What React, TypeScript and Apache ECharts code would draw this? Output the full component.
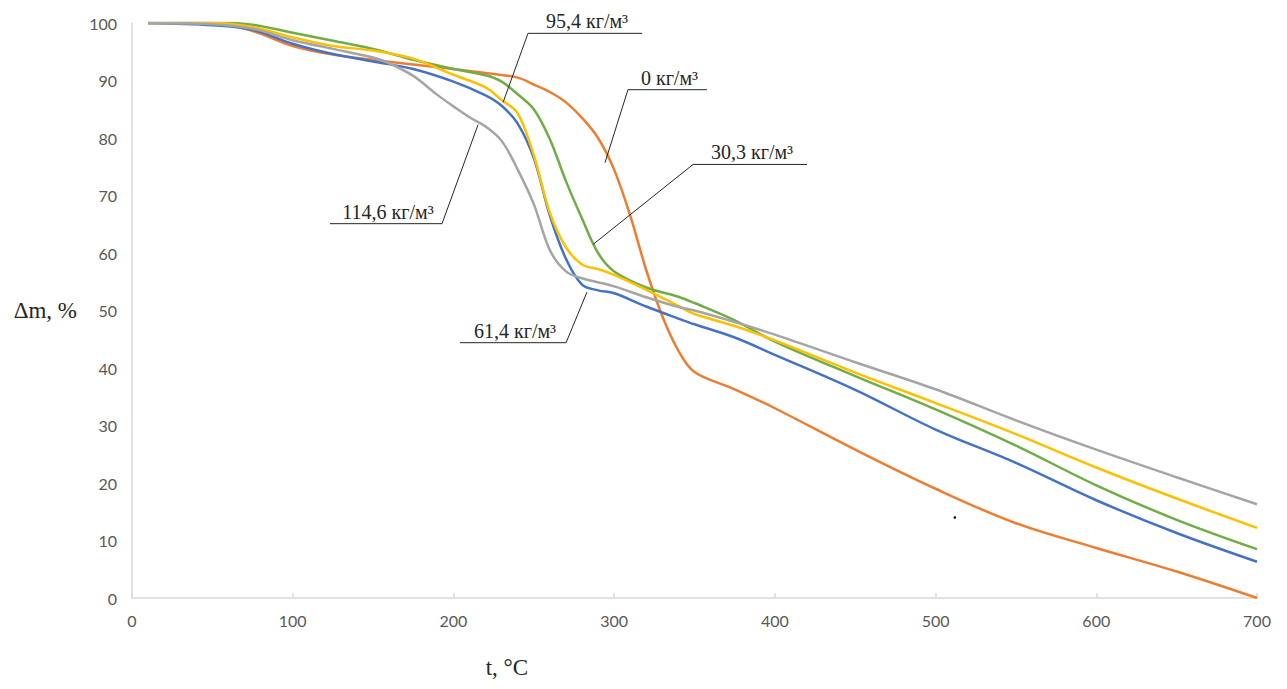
import React, { useEffect, useRef } from "react";
import * as echarts from "echarts";

// Δm (%) vs t (°C) for each density
const s0: [number, number][] = [
  [10, 100], [50, 100], [75, 98.6], [100, 96], [125, 94.5], [150, 93.6], [175, 92.8], [200, 92],
  [220, 91.3], [240, 90.5], [250, 89.3], [260, 88], [270, 86.2], [280, 83.5], [290, 80],
  [300, 74.5], [310, 66.5], [320, 57], [330, 49], [340, 43], [350, 39.3], [375, 36.3], [400, 33],
  [450, 25.8], [500, 19], [550, 13], [600, 8.7], [650, 4.6], [700, 0],
];
const s30: [number, number][] = [
  [10, 100], [50, 100.1], [75, 99.7], [100, 98.3], [125, 96.9], [150, 95.5], [175, 93.6], [200, 92],
  [220, 90.9], [230, 89.8], [240, 87.6], [250, 85], [260, 79.8], [270, 72.5], [280, 66],
  [290, 60], [300, 56.8], [320, 54], [340, 52.4], [350, 51.3], [375, 48.3], [400, 44.6],
  [450, 38.6], [500, 32.8], [550, 26.5], [600, 19.6], [650, 13.6], [700, 8.5],
];
const s61: [number, number][] = [
  [10, 100], [50, 99.6], [75, 98.8], [100, 96.4], [125, 94.6], [150, 93.3], [175, 92], [200, 89.8],
  [220, 87.4], [230, 85.6], [240, 82.5], [250, 76.5], [260, 66.5], [270, 59], [280, 54.5],
  [290, 53.5], [300, 53], [320, 50.7], [340, 48.6], [350, 47.6], [375, 45.3], [400, 42.3],
  [450, 36.2], [500, 29.3], [550, 23.5], [600, 17], [650, 11.3], [700, 6.3],
];
const s95: [number, number][] = [
  [10, 100], [50, 100], [75, 99.3], [100, 97.5], [125, 96], [150, 95.2], [175, 93.8], [200, 91],
  [220, 88.8], [230, 86.6], [240, 84.3], [250, 77], [260, 67], [270, 61], [280, 58],
  [290, 57.2], [300, 56.2], [320, 53.6], [340, 50.8], [350, 49.4], [375, 47.3], [400, 44.8],
  [450, 39.2], [500, 33.9], [550, 28.5], [600, 22.7], [650, 17.3], [700, 12.2],
];
const s114: [number, number][] = [
  [10, 100], [50, 99.8], [75, 99], [100, 97], [125, 95.5], [150, 94], [160, 93], [175, 90.8],
  [190, 87.5], [200, 85.5], [210, 83.6], [220, 82], [230, 79.5], [240, 74.5], [250, 68.5],
  [260, 60.5], [270, 56.8], [280, 55.6], [300, 54.2], [320, 52.3], [340, 50.6], [350, 50],
  [375, 48], [400, 45.8], [450, 41], [500, 36.3], [550, 30.9], [600, 25.8], [650, 21], [700, 16.3],
];

const seriesNames = ["0 кг/м³", "30,3 кг/м³", "61,4 кг/м³", "95,4 кг/м³", "114,6 кг/м³"];
const seriesData = [s0, s30, s61, s95, s114];
const seriesColors = ["#ED7D31", "#70AD47", "#4472C4", "#FFC000", "#A5A5A5"];

// annotation leaders, in data coordinates: tip on the curve, elbow, end of underline
const leaderTips: [number, number][] = [[294.3, 75.7], [286.9, 61.5], [283.1, 53.2], [230.9, 86.2], [215.3, 82.3]];
const leaderElbows: [number, number][] = [[308.6, 88.4], [349.1, 75.4], [270.1, 44.4], [246.4, 98.2], [192.9, 65.1]];
const underlineEnds: [number, number][] = [[357.8, 88.4], [420, 75.4], [204.1, 44.4], [317.4, 98.2], [123.2, 65.1]];

const xTicks = { min: 0, max: 700, interval: 100 };
const yTicks = { min: 0, max: 100, interval: 10 };

export default function App() {
  const ref = useRef<HTMLDivElement>(null);
  useEffect(() => {
    if (!ref.current) return;
    const chart = echarts.init(ref.current, null, { renderer: "svg" });
    const axisGray = "#D9D9D9";
    const tickFont = { color: "#595959", fontFamily: "Lato", fontSize: 16 };
    chart.setOption({
      animation: false,
      backgroundColor: "#ffffff",
      grid: { left: 132, right: 30, top: 23, bottom: 91 },
      xAxis: {
        type: "value",
        ...xTicks,
        axisLine: { show: true, lineStyle: { color: axisGray, width: 1.5 } },
        axisTick: { show: true, inside: true, length: 5, lineStyle: { color: axisGray, width: 1.5 } },
        axisLabel: { ...tickFont, margin: 14 },
        splitLine: { show: false },
      },
      yAxis: {
        type: "value",
        ...yTicks,
        axisLine: { show: true, lineStyle: { color: axisGray, width: 1.5 } },
        axisTick: { show: false },
        axisLabel: { ...tickFont, margin: 15 },
        splitLine: { show: false },
      },
      series: seriesData.map((d, i) => ({
        type: "line",
        name: seriesNames[i],
        data: d,
        smooth: 0.35,
        showSymbol: false,
        lineStyle: { color: seriesColors[i], width: 2.5 },
        itemStyle: { color: seriesColors[i] },
      })),
    });

    const px = (p: [number, number]) => chart.convertToPixel({ gridIndex: 0 }, p) as number[];
    const graphics: any[] = [];
    seriesNames.forEach((name, i) => {
      const a = px(leaderTips[i]);
      const b = px(leaderElbows[i]);
      const c = px(underlineEnds[i]);
      graphics.push({
        type: "polyline",
        silent: true,
        z: 100,
        shape: { points: [a, b, c] },
        style: { stroke: "#262626", lineWidth: 1, fill: null },
      });
      graphics.push({
        type: "text",
        silent: true,
        z: 101,
        x: (b[0] + c[0]) / 2 + 2,
        y: b[1] - 2,
        style: {
          text: name,
          fill: "#262626",
          font: "20px 'Liberation Serif'",
          textAlign: "center",
          textVerticalAlign: "bottom",
        },
      });
    });
    const xt = px([233.3, 0]);
    graphics.push({
      type: "text",
      silent: true,
      x: xt[0],
      y: 667,
      style: {
        text: "t, °C",
        fill: "#262626",
        font: "23px 'Liberation Serif'",
        textAlign: "center",
        textVerticalAlign: "middle",
      },
    });
    const yt = px([0, 50]);
    graphics.push({
      type: "text",
      silent: true,
      x: yt[0] - 55,
      y: yt[1],
      style: {
        text: "Δm, %",
        fill: "#262626",
        font: "23px 'Liberation Serif'",
        textAlign: "right",
        textVerticalAlign: "middle",
      },
    });
    const dot = px([512, 14]);
    graphics.push({
      type: "circle",
      silent: true,
      shape: { cx: dot[0], cy: dot[1], r: 1.3 },
      style: { fill: "#111" },
    });
    chart.setOption({ graphic: graphics });

    return () => chart.dispose();
  }, []);
  return (
    <div
      ref={ref}
      style={{ position: "fixed", left: 0, top: 0, width: 1287, height: 689, background: "#fff" }}
    />
  );
}
